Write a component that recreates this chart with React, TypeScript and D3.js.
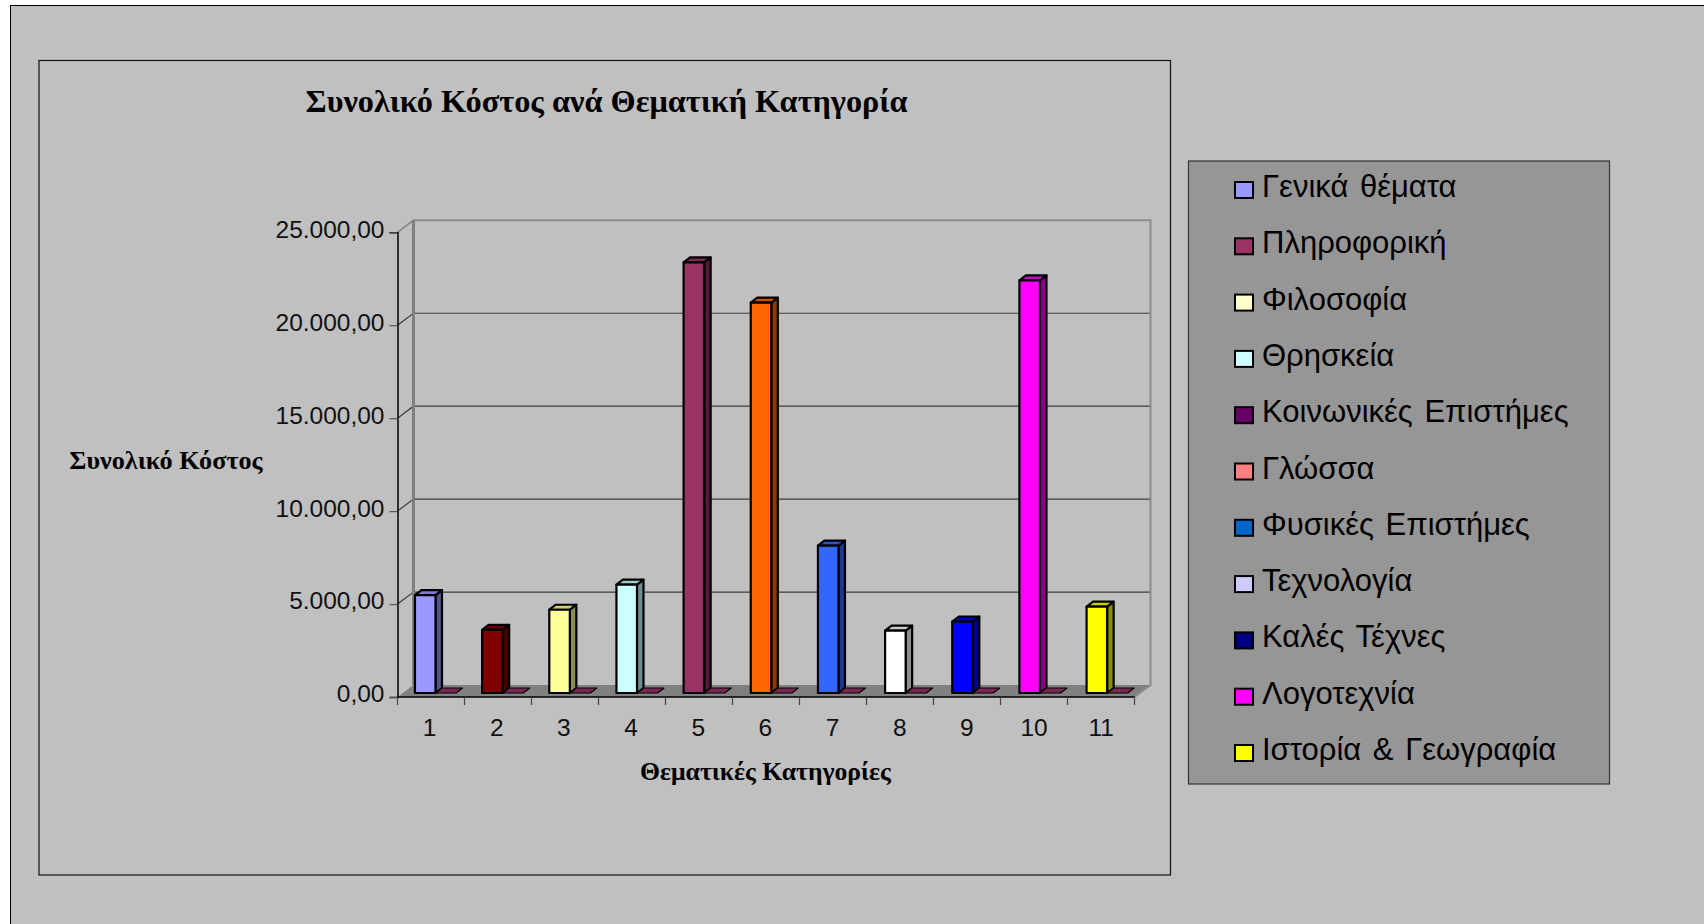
import * as d3 from 'd3';
import React, { useEffect, useRef } from 'react';

const categories = ['1', '2', '3', '4', '5', '6', '7', '8', '9', '10', '11'];
const totalCost = [5270, 3400, 4480, 5830, 23170, 21000, 7930, 3360, 3840, 22200, 4650];
const secondSeries = [0, 0, 0, 0, 0, 0, 0, 0, 0, 0, 0];
const barColors = ['#9999ff', '#800000', '#ffff99', '#ccffff', '#993366', '#ff6600', '#3366ff', '#ffffff', '#0000ff', '#ff00ff', '#ffff00'];
const secondColor = '#993366';
const yTicks = [0, 5000, 10000, 15000, 20000, 25000];

const legendNames = ['Γενικά θέματα', 'Πληροφορική', 'Φιλοσοφία', 'Θρησκεία', 'Κοινωνικές Επιστήμες', 'Γλώσσα', 'Φυσικές Επιστήμες', 'Τεχνολογία', 'Καλές Τέχνες', 'Λογοτεχνία', 'Ιστορία & Γεωγραφία'];
const legendColors = ['#9999ff', '#993366', '#ffffcc', '#ccffff', '#660066', '#ff8080', '#0066cc', '#ccccff', '#000080', '#ff00ff', '#ffff00'];

const sans = '"Liberation Sans", Arial, sans-serif';
const serif = '"Liberation Serif", "Times New Roman", serif';

// same comma decimals as the sheet
const greek = d3.formatLocale({ decimal: ',', thousands: '.', grouping: [3], currency: ['€', ''] });

function shade(color: string, k: number) {
  const c = d3.rgb(color);
  return d3.rgb(c.r * k, c.g * k, c.b * k).formatHex();
}

export default function App() {
  const myRef = useRef<SVGSVGElement>(null);

  useEffect(() => {
    const svg = d3.select(myRef.current);
    svg.selectAll('*').remove();

    // Frames
    svg.append('rect').attr('width', 1704).attr('height', 924).attr('fill', '#fff');
    svg.append('rect').attr('x', 10.5).attr('y', 5.5).attr('width', 1720).attr('height', 940)
      .attr('fill', '#c0c0c0').attr('stroke', '#000').attr('stroke-width', 1);
    svg.append('rect').attr('x', 39).attr('y', 60.5).attr('width', 1131.5).attr('height', 814.5)
      .attr('fill', '#c0c0c0').attr('stroke', '#111').attr('stroke-width', 1.2);

    // Scales
    const xScale = d3.scaleBand().domain(categories).range([397.5, 1134.5]);
    // bars run a touch wider than the axis in the picture
    const barScale = d3.scaleBand().domain(categories).range([397.5, 1136.3]);
    const yScale = d3.scaleLinear().domain([0, 25000]).range([697, 232.3]);
    const subScale = d3.scaleBand().domain(['cost', 'second']).range([0, xScale.bandwidth()]).paddingInner(0).paddingOuter(0.63);

    const wallDx = 16;
    const wallDy = -12;
    const barDx = 4.5;
    const barDy = -4;
    const depthX = 6.5;
    const depthY = -5;

    // Floor and walls
    const [y0, yTop] = [yScale(0), yScale(25000)];
    const [xL, xR] = xScale.range();
    svg.append('path')
      .attr('d', d3.line()([[xL, y0], [xL + wallDx, y0 + wallDy], [xR + wallDx, y0 + wallDy], [xR, y0]]) + 'Z')
      .attr('fill', '#808080');

    // Gridlines, back wall plus the slanted bit on the side wall
    svg.selectAll('.grid')
      .data(yTicks.slice(1, -1))
      .join('path')
      .attr('class', 'grid')
      .attr('d', d => d3.line()([[xL, yScale(d)], [xL + wallDx, yScale(d) + wallDy], [xR + wallDx, yScale(d) + wallDy]]))
      .attr('fill', 'none')
      .attr('stroke', '#3c3c3c')
      .attr('stroke-width', 1.2);

    svg.append('path')
      .attr('d', d3.line()([[xL, yTop], [xL + wallDx, yTop + wallDy], [xR + wallDx, yTop + wallDy], [xR + wallDx, y0 + wallDy], [xR, y0]]))
      .attr('fill', 'none').attr('stroke', '#8c8c8c').attr('stroke-width', 2);
    svg.append('line')
      .attr('x1', xL + wallDx).attr('x2', xL + wallDx)
      .attr('y1', yTop + wallDy).attr('y2', y0 + wallDy)
      .attr('stroke', '#808080').attr('stroke-width', 3);

    // Axes
    const yAxis = d3.axisLeft(yScale).tickValues(yTicks).tickSize(8).tickPadding(5)
      .tickFormat(d => greek.format(',.2f')(d as number));
    const yGroup = svg.append('g').attr('transform', `translate(${xL},0)`).call(yAxis);
    yGroup.select('.domain').attr('stroke', '#000').attr('stroke-width', 1.5);
    yGroup.selectAll('.tick line').attr('stroke', '#555').attr('stroke-width', 1.2);
    yGroup.selectAll('text').attr('font-family', sans).attr('font-size', 24.5).attr('fill', '#111').attr('dy', '0.2em');

    const xAxis = d3.axisBottom(barScale).tickSize(0).tickPadding(22);
    const xGroup = svg.append('g').attr('transform', `translate(0,${y0})`).call(xAxis);
    xGroup.select('.domain').remove();
    xGroup.selectAll('text').attr('font-family', sans).attr('font-size', 24.5).attr('fill', '#111').attr('dx', -1.5);
    svg.append('line').attr('x1', xL).attr('x2', xR).attr('y1', y0).attr('y2', y0).attr('stroke', '#000').attr('stroke-width', 1.5);
    svg.selectAll('.xtick')
      .data(d3.range(categories.length + 1))
      .join('line')
      .attr('class', 'xtick')
      .attr('x1', i => xL + i * xScale.step()).attr('x2', i => xL + i * xScale.step())
      .attr('y1', y0).attr('y2', y0 + 8)
      .attr('stroke', '#444').attr('stroke-width', 1.2);

    // 3D bars: front, side and top faces
    const barWidth = subScale.bandwidth();
    const bars = svg.selectAll('.bar')
      .data(categories.map((c, i) => ({ c, value: totalCost[i], color: barColors[i], second: secondSeries[i] })))
      .join('g')
      .attr('class', 'bar')
      .attr('stroke', '#000')
      .attr('stroke-width', 2.2)
      .attr('stroke-linejoin', 'round');

    const left = d => (barScale(d.c) as number) + (subScale('cost') as number) + barDx;
    const top = d => yScale(d.value) + barDy;
    const base = yScale(0) + barDy;

    bars.append('path')
      .attr('d', d => d3.line()([[left(d) + barWidth, top(d)], [left(d) + barWidth + depthX, top(d) + depthY], [left(d) + barWidth + depthX, base + depthY], [left(d) + barWidth, base]]) + 'Z')
      .attr('fill', d => shade(d.color, 0.55));
    bars.append('path')
      .attr('d', d => d3.line()([[left(d), top(d)], [left(d) + depthX, top(d) + depthY], [left(d) + barWidth + depthX, top(d) + depthY], [left(d) + barWidth, top(d)]]) + 'Z')
      .attr('fill', d => shade(d.color, 0.8));
    bars.append('rect')
      .attr('x', left)
      .attr('y', top)
      .attr('width', barWidth)
      .attr('height', d => base - top(d))
      .attr('fill', d => d.color);

    // Second series is all zero, only its lid shows on the floor
    bars.append('path')
      .attr('d', d => {
        const x = (barScale(d.c) as number) + (subScale('second') as number) + barDx;
        const y = yScale(d.second) + barDy;
        return d3.line()([[x, y], [x + depthX, y + depthY], [x + barWidth + depthX, y + depthY], [x + barWidth, y]]) + 'Z';
      })
      .attr('fill', shade(secondColor, 0.8))
      .attr('stroke-width', 1.2);

    // Titles
    const label = (text: string, x: number, y: number, size: number) => svg.append('text')
      .text(text).attr('x', x).attr('y', y)
      .attr('text-anchor', 'middle').attr('font-family', serif).attr('font-weight', 'bold')
      .attr('font-size', size).attr('fill', '#000');
    label('Συνολικό Κόστος ανά Θεματική Κατηγορία', 606.5, 112, 32.3);
    label('Συνολικό Κόστος', 166, 469, 26.2);
    label('Θεματικές Κατηγορίες', 765.5, 780, 25.7);

    // Legend
    svg.append('rect').attr('x', 1188.5).attr('y', 161).attr('width', 421).attr('height', 623)
      .attr('fill', '#969696').attr('stroke', '#333').attr('stroke-width', 1.2);
    const legendY = d3.scalePoint().domain(legendNames).range([190, 753]);
    const rows = svg.selectAll('.legend')
      .data(legendNames.map((name, i) => ({ name, color: legendColors[i] })))
      .join('g')
      .attr('class', 'legend')
      .attr('transform', d => `translate(0,${legendY(d.name)})`);
    rows.append('rect')
      .attr('x', 1235).attr('y', -8).attr('width', 18).attr('height', 16)
      .attr('fill', d => d.color).attr('stroke', '#000').attr('stroke-width', 2);
    rows.append('text')
      .text(d => d.name)
      .attr('x', 1262).attr('y', 7)
      .attr('word-spacing', 3)
      .attr('font-family', sans).attr('font-size', 31).attr('fill', '#000');
  }, []);

  return <svg ref={myRef} width={1704} height={924} style={{ position: 'absolute', left: 0, top: 0, display: 'block' }} />;
}
